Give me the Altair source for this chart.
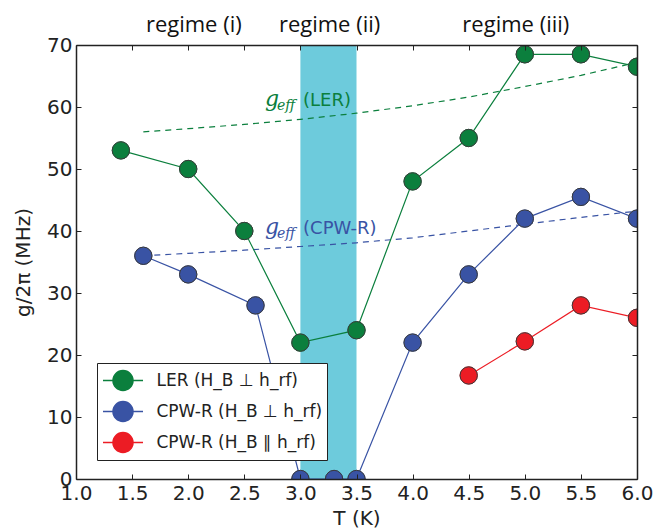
import altair as alt
import pandas as pd

# ---------------- data ----------------
series_names = ["LER (H_B ⊥ h_rf)", "CPW-R (H_B ⊥ h_rf)", "CPW-R (H_B ∥ h_rf)"]
series_colors = ["#0b7f3d", "#3953a4", "#ec1c24"]

T_ler = [1.4, 2.0, 2.5, 3.0, 3.5, 4.0, 4.5, 5.0, 5.5, 6.0]
g_ler = [53.0, 50.0, 40.0, 22.0, 24.0, 48.0, 55.0, 68.5, 68.5, 66.5]

T_cpw = [1.6, 2.0, 2.6, 3.0, 3.3, 3.5, 4.0, 4.5, 5.0, 5.5, 6.0]
g_cpw = [36.0, 33.0, 28.0, 0.0, 0.0, 0.0, 22.0, 33.0, 42.0, 45.5, 42.0]

T_par = [4.5, 5.0, 5.5, 6.0]
g_par = [16.7, 22.2, 28.0, 26.0]

T_eff = [1.6, 2.0, 2.5, 3.0, 3.5, 4.0, 4.5, 5.0, 5.5, 6.0]
geff_ler = [56.0, 56.5, 57.2, 58.0, 59.0, 60.2, 61.6, 63.3, 65.1, 67.2]
geff_cpw = [36.0, 36.4, 36.9, 37.5, 38.1, 38.9, 40.0, 41.1, 42.2, 43.2]

band_T = [3.0, 3.5]
regime_T = [2.05, 3.26, 4.92]
regime_text = ["regime (i)", "regime (ii)", "regime (iii)"]

ann_T = [2.685, 2.685]
ann_g = [60.1, 39.5]
ann_label = ["(LER)", "(CPW-R)"]
ann_color = ["#0b7f3d", "#3953a4"]

x_ticks = [1.0, 1.5, 2.0, 2.5, 3.0, 3.5, 4.0, 4.5, 5.0, 5.5, 6.0]
y_ticks = [0, 10, 20, 30, 40, 50, 60, 70]

# ---------------- frames ----------------
main_df = pd.DataFrame({
    "T": T_ler + T_cpw + T_par,
    "g": g_ler + g_cpw + g_par,
    "series": [series_names[0]] * len(T_ler) + [series_names[1]] * len(T_cpw) + [series_names[2]] * len(T_par),
})
eff_ler_df = pd.DataFrame({"T": T_eff, "g": geff_ler})
eff_cpw_df = pd.DataFrame({"T": T_eff, "g": geff_cpw})
band_df = pd.DataFrame({"x0": [band_T[0]], "x1": [band_T[1]]})
regime_df = pd.DataFrame({"T": regime_T, "text": regime_text})
ann_df = pd.DataFrame({"T": ann_T, "g": ann_g, "label": ann_label, "c": ann_color})

W, H = 561, 434
dark = "#222222"
font = "DejaVu Sans"

xs = alt.Scale(domain=[1.0, 6.0], nice=False, zero=False)
ys = alt.Scale(domain=[0, 70], nice=False, zero=False)
cs = alt.Scale(domain=series_names, range=series_colors)

ax_x_main = alt.Axis(values=x_ticks, format=".1f", ticks=False, domain=True, domainColor=dark,
                     domainWidth=1.5, labelFont=font, labelFontSize=20, labelColor=dark,
                     labelPadding=4, labelFlush=False, title="T (K)", titleFont=font,
                     titleFontSize=20, titleFontWeight="normal", titleColor=dark,
                     titlePadding=5, grid=False, orient="bottom", zindex=1)
ax_y_main = alt.Axis(values=y_ticks, format="d", ticks=False, domain=True, domainColor=dark,
                     domainWidth=1.5, labelFont=font, labelFontSize=20, labelColor=dark,
                     labelPadding=4, labelFlush=False, title="g/2π (MHz)", titleFont=font,
                     titleFontSize=20, titleFontWeight="normal", titleColor=dark,
                     titlePadding=13, grid=False, orient="left", zindex=1)
ax_x_bticks = alt.Axis(orient="top", offset=-H, values=x_ticks, labels=False, domain=False,
                       ticks=True, tickSize=5, tickColor=dark, tickWidth=1, title=None,
                       grid=False, zindex=1)
ax_x_top = alt.Axis(orient="bottom", offset=-H, values=x_ticks, labels=False, domain=True,
                    domainColor=dark, domainWidth=1.5, ticks=True, tickSize=5, tickColor=dark,
                    tickWidth=1, title=None, grid=False, zindex=1)
ax_y_lticks = alt.Axis(orient="right", offset=-W, values=y_ticks, labels=False, domain=False,
                       ticks=True, tickSize=5, tickColor=dark, tickWidth=1, title=None,
                       grid=False, zindex=1)
ax_y_right = alt.Axis(orient="left", offset=-W, values=y_ticks, labels=False, domain=True,
                      domainColor=dark, domainWidth=1.5, ticks=True, tickSize=5, tickColor=dark,
                      tickWidth=1, title=None, grid=False, zindex=1)

PATH = "M-1.6,0H-0.8M0.8,0H1.6M0.8,0A0.8,0.8 0 1,1 -0.8,0A0.8,0.8 0 1,1 0.8,0Z"
leg = alt.Legend(title=None, orient="none", legendX=21, legendY=318, direction="vertical",
                 symbolType=PATH, symbolSize=625, symbolStrokeWidth=1.5, symbolOpacity=1,
                 symbolOffset=8.5, labelOffset=20, labelFont=font, labelFontSize=17,
                 labelColor=dark, labelLimit=400, padding=4, rowPadding=4,
                 strokeColor=dark, fillColor="white", cornerRadius=0)

band = alt.Chart(band_df).mark_rect(color="#6dcbdc", opacity=1).encode(
    x=alt.X("x0:Q", scale=xs, axis=ax_x_main),
    x2="x1:Q",
    y=alt.value(0),
    y2=alt.value(H),
)

dash1 = alt.Chart(eff_ler_df).mark_line(color=series_colors[0], strokeDash=[6, 5], strokeWidth=1.2).encode(
    x=alt.X("T:Q", scale=xs, axis=ax_x_bticks),
    y=alt.Y("g:Q", scale=ys, axis=ax_y_lticks),
)
dash2 = alt.Chart(eff_cpw_df).mark_line(color=series_colors[1], strokeDash=[6, 5], strokeWidth=1.2).encode(
    x=alt.X("T:Q", scale=xs, axis=ax_x_top),
    y=alt.Y("g:Q", scale=ys, axis=ax_y_right),
)

lines = alt.Chart(main_df).mark_line(strokeWidth=1.2, clip=True).encode(
    x=alt.X("T:Q", scale=xs, axis=None),
    y=alt.Y("g:Q", scale=ys, axis=ax_y_main),
    stroke=alt.Stroke("series:N", scale=cs, legend=leg),
)

points = alt.Chart(main_df).mark_point(filled=True, size=300, opacity=1, strokeWidth=1,
                                       clip=True).encode(
    x=alt.X("T:Q", scale=xs, axis=None),
    y=alt.Y("g:Q", scale=ys, axis=None),
    fill=alt.Fill("series:N", scale=cs, legend=leg),
    stroke=alt.Stroke("series:N", scale=cs, legend=leg),
)

rings = alt.Chart(main_df).mark_point(filled=False, size=300, opacity=1, stroke="#3a3a3a",
                                      strokeWidth=1, clip=True).encode(
    x=alt.X("T:Q", scale=xs, axis=None),
    y=alt.Y("g:Q", scale=ys, axis=None),
)

g_txt = alt.Chart(ann_df).mark_text(text="g", font="DejaVu Serif", fontStyle="italic", fontSize=22,
                                    align="left", baseline="alphabetic").encode(
    x=alt.X("T:Q", scale=xs, axis=None),
    y=alt.Y("g:Q", scale=ys, axis=None),
    color=alt.Color("c:N", scale=None, legend=None),
)
eff_txt = alt.Chart(ann_df).mark_text(text="eff", font="DejaVu Serif", fontStyle="italic", fontSize=14,
                                      align="left", baseline="alphabetic", dx=12, dy=4).encode(
    x=alt.X("T:Q", scale=xs, axis=None),
    y=alt.Y("g:Q", scale=ys, axis=None),
    color=alt.Color("c:N", scale=None, legend=None),
)
lab_txt = alt.Chart(ann_df).mark_text(font=font, fontSize=18, align="left", baseline="alphabetic",
                                      dx=38).encode(
    x=alt.X("T:Q", scale=xs, axis=None),
    y=alt.Y("g:Q", scale=ys, axis=None),
    text="label:N",
    color=alt.Color("c:N", scale=None, legend=None),
)

reg_txt = alt.Chart(regime_df).mark_text(font="Open Sans", fontSize=22, color="#111111",
                                         align="center", baseline="alphabetic").encode(
    x=alt.X("T:Q", scale=xs, axis=None),
    y=alt.value(-13),
    text="text:N",
)

chart = alt.layer(
    band, dash1, dash2, lines, points, rings, g_txt, eff_txt, lab_txt, reg_txt
).resolve_axis(x="independent", y="independent").properties(
    width=W, height=H,
    autosize=alt.AutoSizeParams(type="none"),
    padding={"left": 68, "top": 37, "right": 24, "bottom": 53},
).configure_view(stroke=None).configure(background="white")

chart.save("out.html", embed_options={"renderer": "svg", "actions": False})
